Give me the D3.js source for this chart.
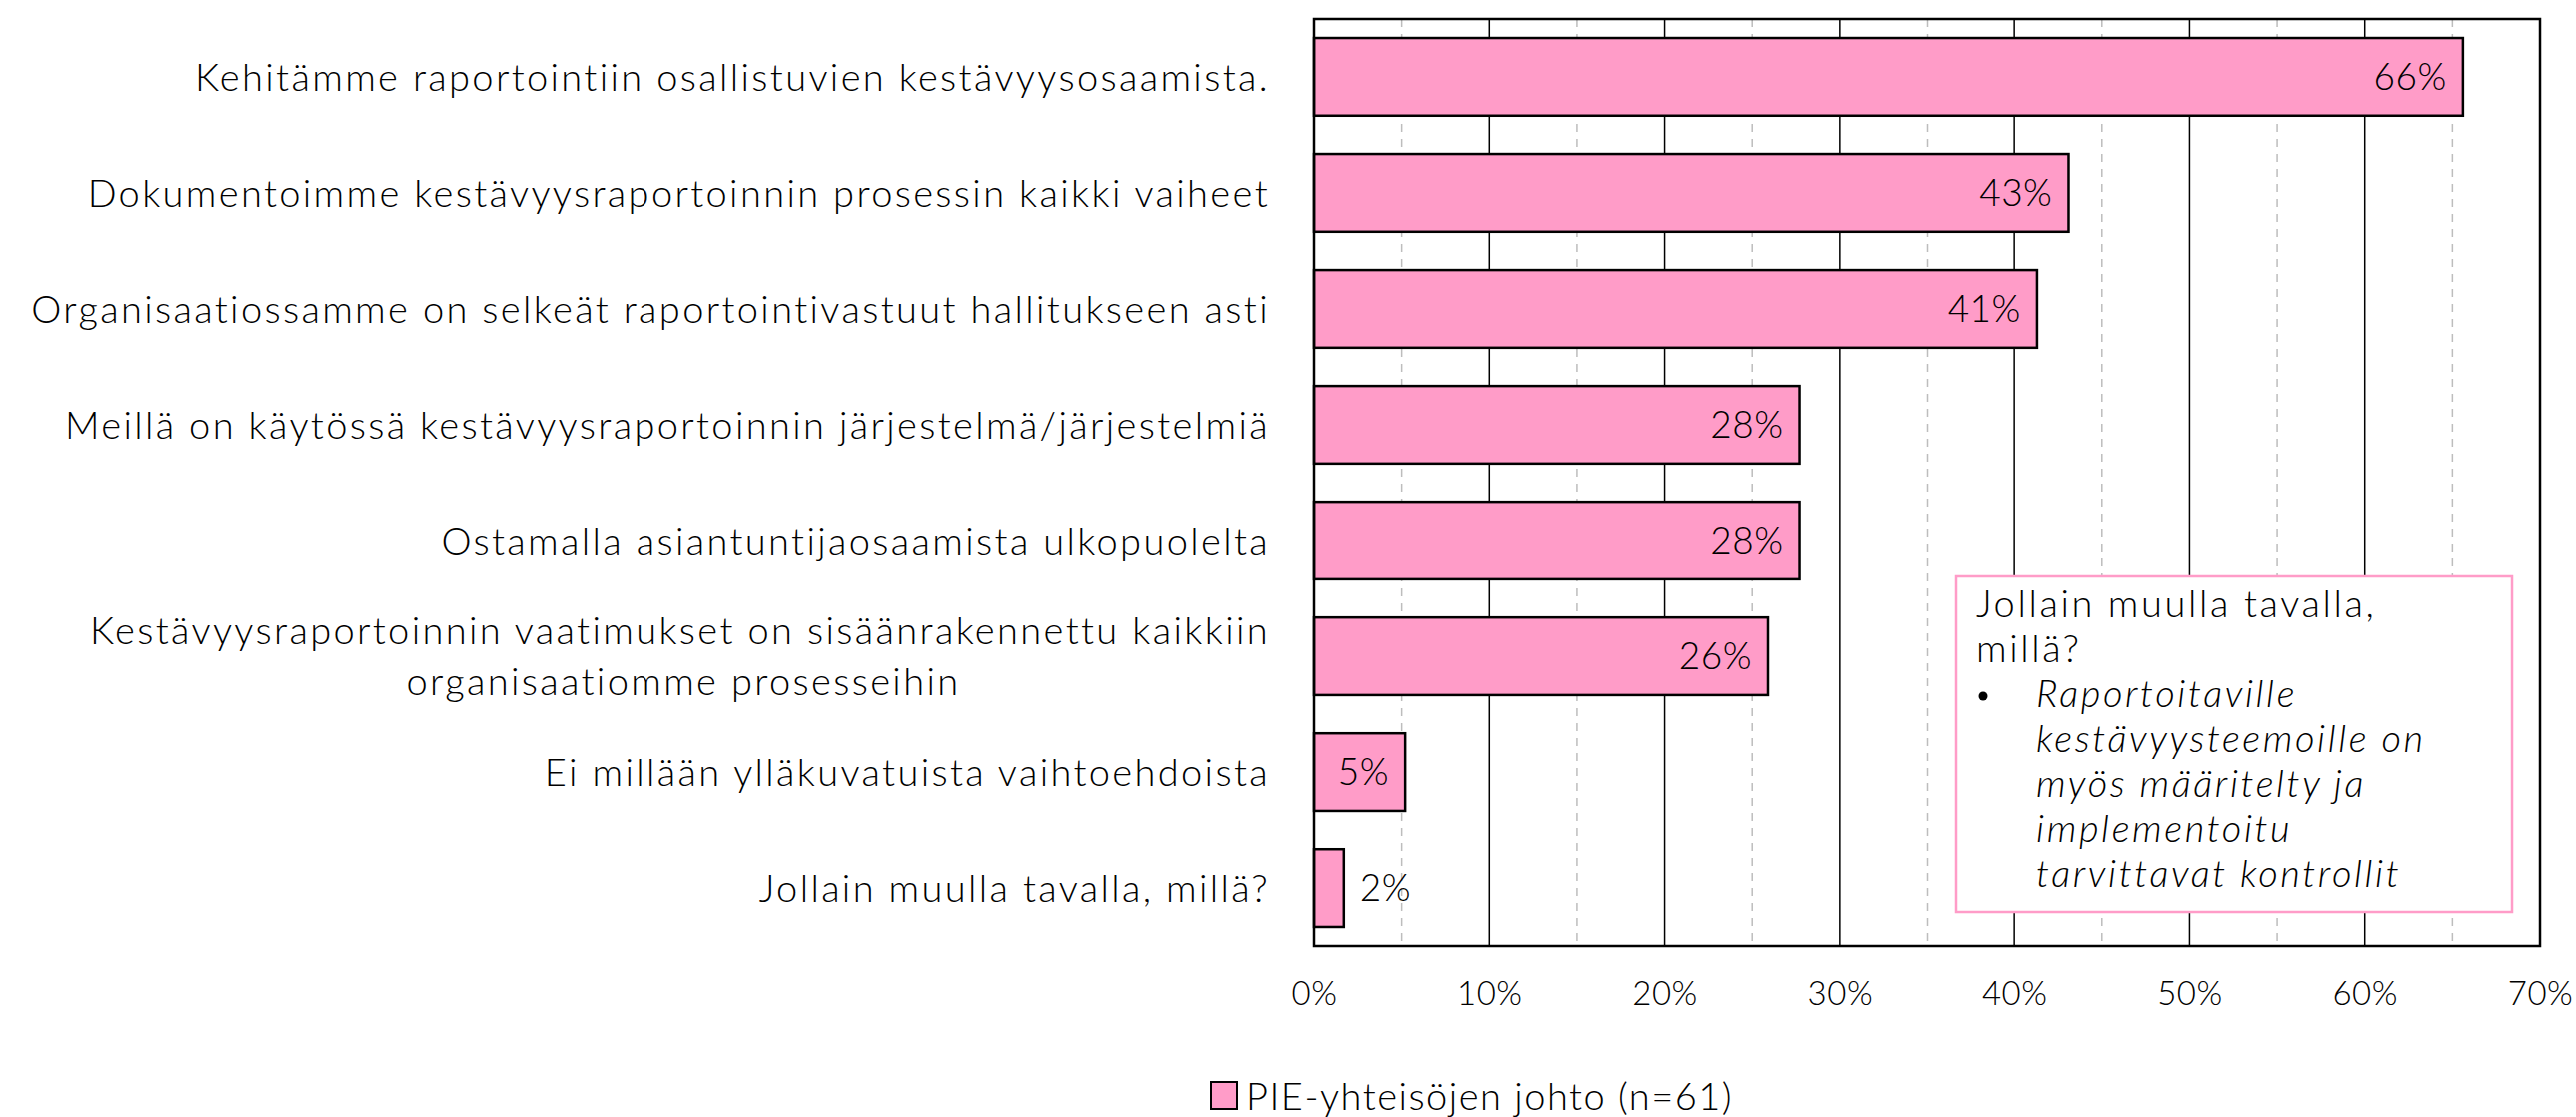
<!DOCTYPE html>
<html lang="fi">
<head>
<meta charset="UTF-8">
<script src="https://cdnjs.cloudflare.com/ajax/libs/d3/7.8.5/d3.min.js"></script>
<title>Kestävyysraportointi</title>
<style>
  body { margin: 0; background: #fff; }
  svg { display: block; font-family: Lato, "Open Sans", sans-serif; font-weight: 300; }
  .lbl { font-size: 37px; fill: #000; letter-spacing: 0.5px; }
  .cat { font-size: 38px; letter-spacing: 2.35px; }
  .legend { font-size: 38px; letter-spacing: 1.5px; }
  .note { font-size: 38px; letter-spacing: 2.6px; }
</style>
</head>
<body>
<svg width="2578" height="1118"></svg>
<script>
// data
var categories = [
  ["Kehitämme raportointiin osallistuvien kestävyysosaamista."],
  ["Dokumentoimme kestävyysraportoinnin prosessin kaikki vaiheet"],
  ["Organisaatiossamme on selkeät raportointivastuut hallitukseen asti"],
  ["Meillä on käytössä kestävyysraportoinnin järjestelmä/järjestelmiä"],
  ["Ostamalla asiantuntijaosaamista ulkopuolelta"],
  ["Kestävyysraportoinnin vaatimukset on sisäänrakennettu kaikkiin", "organisaatiomme prosesseihin"],
  ["Ei millään ylläkuvatuista vaihtoehdoista"],
  ["Jollain muulla tavalla, millä?"]
];
var values = [65.6, 43.1, 41.3, 27.7, 27.7, 25.9, 5.2, 1.7];
var valueLabels = ["66%", "43%", "41%", "28%", "28%", "26%", "5%", "2%"];
var ticks = [0, 10, 20, 30, 40, 50, 60, 70];
var minorTicks = [5, 15, 25, 35, 45, 55, 65];
var seriesName = "PIE-yhteisöjen johto (n=61)";
var noteTitle = ["Jollain muulla tavalla,", "millä?"];
var noteBullet = ["Raportoitaville", "kestävyysteemoille on", "myös määritelty ja", "implementoitu", "tarvittavat kontrollit"];

var pink = "#ff9cc8";
var plotL = 1315, plotR = 2542, plotT = 19, plotB = 947;

var svg = d3.select("svg");
var x = d3.scaleLinear().domain([0, 70]).range([plotL, plotR]);
var y = d3.scaleBand().domain(d3.range(values.length)).range([plotT, plotB])
  .paddingInner(0.33).paddingOuter(0.164);

// gridlines
svg.selectAll(".minor").data(minorTicks).enter().append("line")
  .attr("x1", d => x(d)).attr("x2", d => x(d))
  .attr("y1", plotT).attr("y2", plotB)
  .attr("stroke", "#bdbdbd").attr("stroke-width", 1.5).attr("stroke-dasharray", "8,7");
svg.selectAll(".major").data(ticks.slice(1, -1)).enter().append("line")
  .attr("x1", d => x(d)).attr("x2", d => x(d))
  .attr("y1", plotT).attr("y2", plotB)
  .attr("stroke", "#000").attr("stroke-width", 1.5);

// bars
svg.selectAll(".bar").data(values).enter().append("rect")
  .attr("x", x(0)).attr("y", (d, i) => y(i))
  .attr("width", d => x(d) - x(0)).attr("height", y.bandwidth())
  .attr("fill", pink).attr("stroke", "#000").attr("stroke-width", 2.5);

// frame
svg.append("rect").attr("x", plotL).attr("y", plotT)
  .attr("width", plotR - plotL).attr("height", plotB - plotT)
  .attr("fill", "none").attr("stroke", "#000").attr("stroke-width", 2.5);

// value labels
svg.selectAll(".val").data(values).enter().append("text")
  .attr("class", "lbl")
  .attr("x", d => d < 3 ? x(d) + 16 : x(d) - 16)
  .attr("y", (d, i) => y(i) + y.bandwidth() / 2)
  .attr("dy", "0.36em")
  .attr("text-anchor", d => d < 3 ? "start" : "end")
  .text((d, i) => valueLabels[i]);

// category labels
var cat = svg.selectAll(".cat").data(categories).enter().append("text")
  .attr("class", "lbl cat")
  .attr("transform", (d, i) => "translate(" + (plotL - 44) + "," + (y(i) + y.bandwidth() / 2) + ")");
cat.selectAll("tspan").data(d => d.map((t, k) => ({t: t, k: k, n: d.length}))).enter().append("tspan")
  .attr("x", d => d.n > 1 && d.k == 1 ? -(plotL - 44 - 684) : 0)
  .attr("text-anchor", d => d.n > 1 && d.k == 1 ? "middle" : "end")
  .attr("y", d => (d.k - (d.n - 1) / 2) * 51)
  .attr("dy", "0.36em")
  .text(d => d.t);

// x axis
var xAxis = svg.append("g").attr("transform", "translate(0," + plotB + ")")
  .call(d3.axisBottom(x).tickValues(ticks).tickSize(0).tickPadding(36).tickFormat(d => d + "%"));
xAxis.attr("font-family", null).attr("font-size", null);
xAxis.select(".domain").remove();
xAxis.selectAll("text").attr("class", "lbl").attr("fill", null).style("font-size", "33px");

// note box
var note = svg.append("g");
note.append("rect").attr("x", 1958).attr("y", 577).attr("width", 556).attr("height", 336)
  .attr("fill", "#fff").attr("stroke", pink).attr("stroke-width", 2.5);
note.selectAll(".nt").data(noteTitle).enter().append("text").attr("class", "lbl note")
  .attr("x", 1978).attr("y", (d, i) => 618 + i * 45).text(d => d);
note.append("circle").attr("cx", 1985).attr("cy", 697).attr("r", 4.5).attr("fill", "#000");
note.selectAll(".nb").data(noteBullet).enter().append("text").attr("class", "lbl note")
  .style("font-style", "italic")
  .attr("x", 2038).attr("y", (d, i) => 708 + i * 45).text(d => d);

// legend
var leg = svg.append("g").attr("transform", "translate(1212,1083)");
leg.append("rect").attr("width", 26).attr("height", 27)
  .attr("fill", pink).attr("stroke", "#000").attr("stroke-width", 2);
leg.append("text").attr("class", "lbl legend").attr("x", 35).attr("y", 14).attr("dy", "0.36em").text(seriesName);
</script>
</body>
</html>
